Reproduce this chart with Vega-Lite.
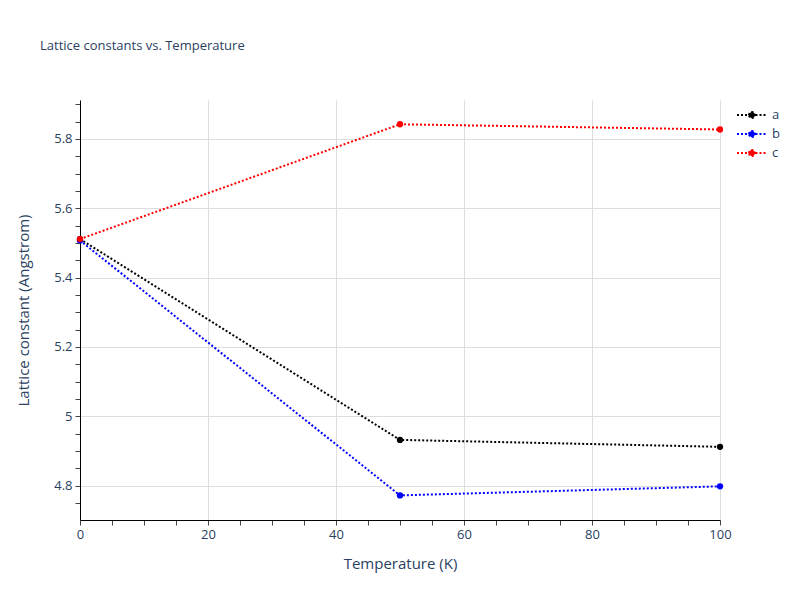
{
  "$schema": "https://vega.github.io/schema/vega-lite/v6.json",
  "width": 640,
  "height": 420,
  "autosize": {"type": "none"},
  "padding": {"left": 80, "top": 100, "right": 80, "bottom": 80},
  "background": "white",
  "config": {
    "font": "Open Sans",
    "view": {"stroke": null}
  },
  "title": {
    "text": "Lattice constants vs. Temperature",
    "anchor": "start",
    "frame": "group",
    "dx": -40,
    "offset": 47,
    "fontSize": 13,
    "fontWeight": "normal",
    "color": "#2a3f5f",
    "font": "Open Sans"
  },
  "data": {
    "values": [
      {"T": 0, "v": 5.511, "s": "a"},
      {"T": 50, "v": 4.932, "s": "a"},
      {"T": 100, "v": 4.912, "s": "a"},
      {"T": 0, "v": 5.507, "s": "b"},
      {"T": 50, "v": 4.772, "s": "b"},
      {"T": 100, "v": 4.798, "s": "b"},
      {"T": 0, "v": 5.511, "s": "c"},
      {"T": 50, "v": 5.842, "s": "c"},
      {"T": 100, "v": 5.827, "s": "c"}
    ]
  },
  "encoding": {
    "x": {
      "field": "T",
      "type": "quantitative",
      "scale": {"domain": [0, 100], "nice": false, "zero": false},
      "axis": {
        "title": "Temperature (K)",
        "titleFontSize": 15,
        "titleFontWeight": "normal",
        "titleColor": "#2a3f5f",
        "titlePadding": 15,
        "values": [0,5,10,15,20,25,30,35,40,45,50,55,60,65,70,75,80,85,90,95,100],
        "labelExpr": "datum.value % 20 == 0 ? datum.label : ''",
        "labelFlush": false,
        "labelColor": "#2a3f5f",
        "labelFontSize": 13,
        "labelPadding": 3,
        "domainColor": "black",
        "domainWidth": 1,
        "tickColor": "#444",
        "tickSize": 5,
        "gridColor": "#dddddd",
        "gridOpacity": {"condition": {"test": "datum.value % 20 == 0", "value": 1}, "value": 0}
      }
    },
    "y": {
      "field": "v",
      "type": "quantitative",
      "scale": {"domain": [4.701, 5.912], "nice": false, "zero": false},
      "axis": {
        "title": "Lattice constant (Angstrom)",
        "titleFontSize": 15,
        "titleFontWeight": "normal",
        "titleColor": "#2a3f5f",
        "titlePadding": 22,
        "values": [4.75,4.8,4.85,4.9,4.95,5.0,5.05,5.1,5.15,5.2,5.25,5.3,5.35,5.4,5.45,5.5,5.55,5.6,5.65,5.7,5.75,5.8,5.85,5.9],
        "labelExpr": "abs(datum.value*5 - round(datum.value*5)) < 0.001 ? format(datum.value, '~g') : ''",
        "labelFlush": false,
        "labelColor": "#2a3f5f",
        "labelFontSize": 13,
        "labelPadding": 3,
        "domainColor": "black",
        "domainWidth": 1,
        "tickColor": "#444",
        "tickSize": 5,
        "gridColor": "#dddddd",
        "gridOpacity": {"condition": {"test": "abs(datum.value*5 - round(datum.value*5)) < 0.001", "value": 1}, "value": 0}
      }
    },
    "color": {
      "field": "s",
      "type": "nominal",
      "scale": {"domain": ["a", "b", "c"], "range": ["black", "blue", "red"]},
      "legend": {
        "title": null,
        "orient": "none",
        "legendX": 661,
        "legendY": 4,
        "labelFontSize": 13,
        "labelColor": "#2a3f5f",
        "symbolType": "M-1.5,0L-0.35,0M0.35,0L1.5,0M-0.3,0A0.3,0.3 0 1,1 0.3,0A0.3,0.3 0 1,1 -0.3,0",
        "symbolSize": 400,
        "symbolStrokeWidth": 2,
        "symbolDash": [2, 2],
        "rowPadding": 1,
        "labelOffset": 9
      }
    }
  },
  "layer": [
    {
      "mark": {"type": "line", "strokeWidth": 2, "strokeDash": [2, 2]}
    },
    {
      "mark": {"type": "point", "filled": true, "size": 40, "opacity": 1}
    }
  ]
}
